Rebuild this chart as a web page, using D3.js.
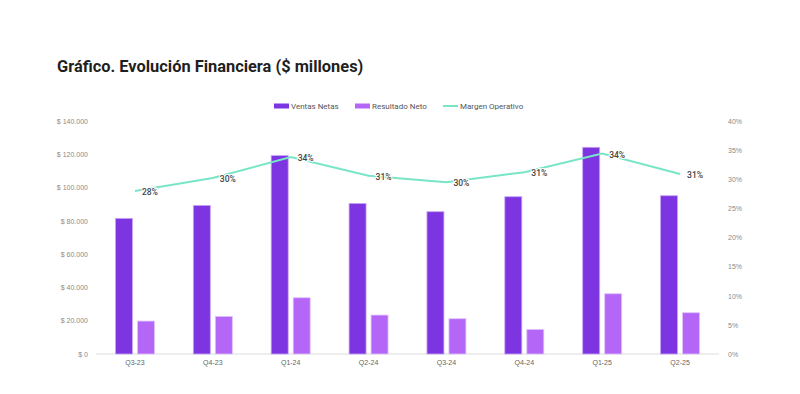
<!DOCTYPE html>
<html>
<head>
<meta charset="utf-8">
<script src="https://cdn.jsdelivr.net/npm/d3@7"></script>
<style>
  body { margin: 0; background: #fff; }
  svg { display: block; font-family: Roboto, "Liberation Sans", sans-serif; }
</style>
</head>
<body>
<div id="chart"></div>
<script>
const quarters = ["Q3-23", "Q4-23", "Q1-24", "Q2-24", "Q3-24", "Q4-24", "Q1-25", "Q2-25"];
const ventasNetas = [81500, 89300, 119200, 90500, 85500, 94500, 124200, 95100];
const resultadoNeto = [19800, 22600, 33800, 23400, 21200, 14800, 36200, 24800];
const margenOperativo = [28.0, 30.2, 33.8, 30.6, 29.5, 31.2, 34.4, 30.9];
const leftTicks = [0, 20000, 40000, 60000, 80000, 100000, 120000, 140000];
const rightTicks = [0, 5, 10, 15, 20, 25, 30, 35, 40];

let width = 800, height = 394;
let margin = {top: 121, right: 81, bottom: 40, left: 96};

let svg = d3.select("#chart").append("svg")
    .attr("width", width)
    .attr("height", height);

svg.append("text")
    .attr("x", 57)
    .attr("y", 72)
    .attr("fill", "#1f1f1f")
    .style("font-size", "16.4px")
    .style("font-weight", "700")
    .text("Gráfico. Evolución Financiera ($ millones)");

let x = d3.scaleBand()
    .domain(quarters)
    .range([margin.left, width - margin.right]);

let y = d3.scaleLinear()
    .domain([0, 140000])
    .range([height - margin.bottom, margin.top]);

let y2 = d3.scaleLinear()
    .domain([0, 40])
    .range([height - margin.bottom, margin.top]);

let fmt = (v) => "$ " + (v === 0 ? "0" : d3.format(",")(v).replace(/,/g, "."));

// left axis
let leftAxis = svg.append("g")
    .attr("transform", "translate(" + (margin.left - 5) + ",0)")
    .call(d3.axisLeft(y).tickValues(leftTicks).tickFormat(fmt).tickSize(0));
leftAxis.select(".domain").remove();
leftAxis.selectAll("text")
    .attr("fill", "#8a8a8a")
    .style("font-size", "7px")
    .attr("dy", "0.32em");

// right axis
let rightAxis = svg.append("g")
    .attr("transform", "translate(" + (width - margin.right + 6) + ",0)")
    .call(d3.axisRight(y2).tickValues(rightTicks).tickFormat((d) => d + "%").tickSize(0));
rightAxis.select(".domain").remove();
rightAxis.selectAll("text")
    .attr("fill", "#8a8a8a")
    .style("font-size", "7px")
    .attr("dy", "0.32em");

// baseline
svg.append("line")
    .attr("x1", margin.left)
    .attr("x2", width - margin.right)
    .attr("y1", y(0))
    .attr("y2", y(0))
    .attr("stroke", "#dcdcdc")
    .attr("stroke-width", 1);

// x axis labels
let xAxis = svg.append("g")
    .attr("transform", "translate(0," + (y(0) + 3) + ")")
    .call(d3.axisBottom(x).tickSize(0));
xAxis.select(".domain").remove();
xAxis.selectAll("text")
    .attr("fill", "#666")
    .style("font-size", "7px");

// bars
let barW = 17, gap = 5;
let groups = svg.append("g").selectAll("g")
    .data(quarters)
    .enter().append("g")
    .attr("transform", (d) => "translate(" + (x(d) + x.bandwidth() / 2) + ",0)");

groups.append("rect")
    .attr("x", -barW - gap / 2)
    .attr("width", barW)
    .attr("y", (d, i) => y(ventasNetas[i]))
    .attr("height", (d, i) => y(0) - y(ventasNetas[i]))
    .attr("fill", "#7c35e0")
    .attr("stroke", "#c9a6f5")
    .attr("stroke-width", 0.8);

groups.append("rect")
    .attr("x", gap / 2)
    .attr("width", barW)
    .attr("y", (d, i) => y(resultadoNeto[i]))
    .attr("height", (d, i) => y(0) - y(resultadoNeto[i]))
    .attr("fill", "#b467f7")
    .attr("stroke", "#e0c4fb")
    .attr("stroke-width", 0.8);

// margin line
let line = d3.line()
    .x((d, i) => x(quarters[i]) + x.bandwidth() / 2)
    .y((d) => y2(d));

svg.append("path")
    .datum(margenOperativo)
    .attr("d", line)
    .attr("fill", "none")
    .attr("stroke", "#78e6c6")
    .attr("stroke-width", 2);

svg.append("g").selectAll("text")
    .data(margenOperativo)
    .enter().append("text")
    .attr("x", (d, i) => x(quarters[i]) + x.bandwidth() / 2 + 7)
    .attr("y", (d) => y2(d) + 1)
    .attr("dy", "0.35em")
    .attr("fill", "#444")
    .attr("stroke", "#fff")
    .attr("stroke-width", 2)
    .attr("paint-order", "stroke")
    .style("font-size", "8.5px")
    .style("font-weight", "500")
    .text((d) => Math.round(d) + "%");

// legend
let legendItems = [
    {label: "Ventas Netas", color: "#7c35e0", type: "bar", x: 274},
    {label: "Resultado Neto", color: "#b467f7", type: "bar", x: 355},
    {label: "Margen Operativo", color: "#78e6c6", type: "line", x: 443}
];
let legend = svg.append("g").selectAll("g")
    .data(legendItems)
    .enter().append("g")
    .attr("transform", (d) => "translate(" + d.x + ",106)");

legend.append("rect")
    .attr("x", 0)
    .attr("y", (d) => d.type === "bar" ? -2.5 : -1)
    .attr("width", 15)
    .attr("height", (d) => d.type === "bar" ? 5 : 2)
    .attr("fill", (d) => d.color);

legend.append("text")
    .attr("x", 17)
    .attr("dy", "0.35em")
    .attr("fill", "#555")
    .style("font-size", "8px")
    .text((d) => d.label);
</script>
</body>
</html>
